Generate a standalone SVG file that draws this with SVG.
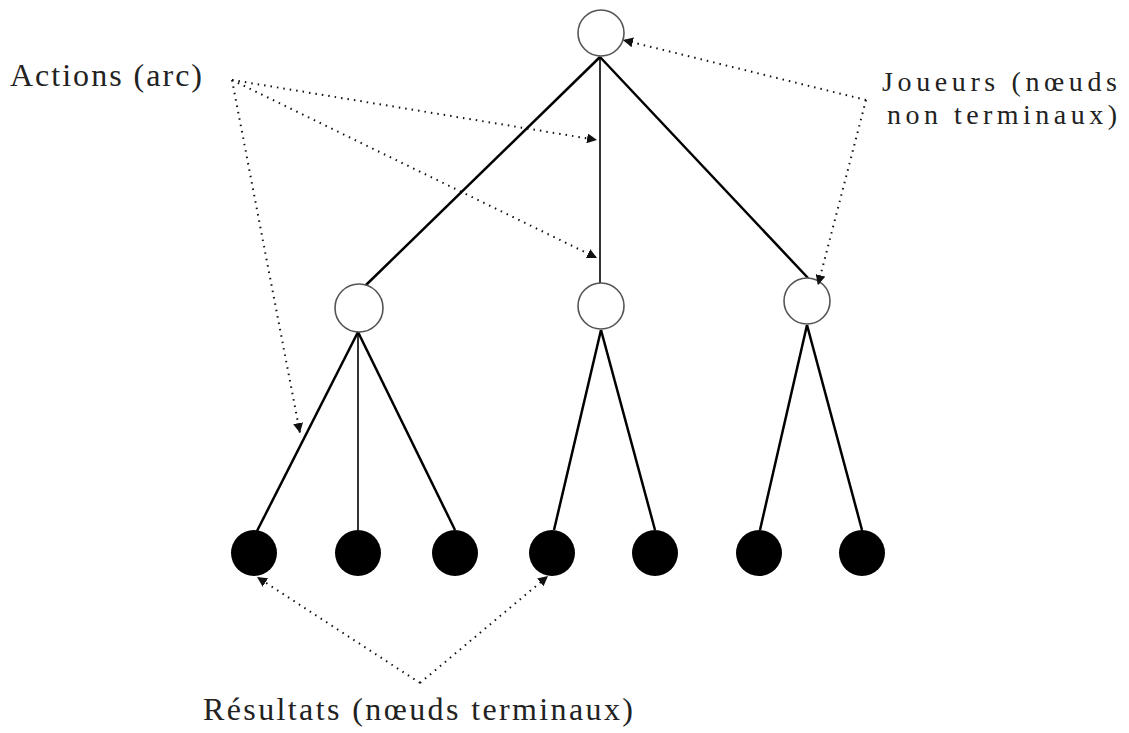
<svg xmlns="http://www.w3.org/2000/svg" width="1129" height="733" viewBox="0 0 1129 733">
<style>
.lbl{font-size:32px;fill:#222}
.sm{font-size:28px}
.edge{stroke:#000;stroke-width:2.5;fill:none}
.thin{stroke:#000;stroke-width:1.6;fill:none}
.dot{stroke:#111;stroke-width:2;stroke-dasharray:1.5,5;fill:none}
.open{fill:#fff;stroke:#555;stroke-width:1.6}
.leaf{fill:#000}
</style>
<defs>
<marker id="ah" viewBox="0 0 10 10" refX="10" refY="5" markerWidth="10" markerHeight="10" markerUnits="userSpaceOnUse" orient="auto">
<path d="M0,0 L10,5 L0,10 z" fill="#111"/>
</marker>
</defs>
<g id="edges">
<line class="edge" x1="600" y1="57" x2="365" y2="286"/>
<line class="thin" x1="600" y1="57" x2="600" y2="283"/>
<line class="edge" x1="600" y1="57" x2="808" y2="278"/>
<line class="edge" x1="358" y1="332" x2="257" y2="531"/>
<line class="thin" x1="358" y1="332" x2="358" y2="530"/>
<line class="edge" x1="358" y1="332" x2="455" y2="530"/>
<line class="edge" x1="601" y1="330" x2="554" y2="530"/>
<line class="edge" x1="601" y1="330" x2="655" y2="530"/>
<line class="edge" x1="807" y1="325" x2="760" y2="530"/>
<line class="edge" x1="807" y1="325" x2="862" y2="530"/>
</g>
<g id="root"><circle class="open" cx="601" cy="33" r="23"/></g>
<g id="n1"><circle class="open" cx="359" cy="308" r="24"/></g>
<g id="n2"><circle class="open" cx="601" cy="306" r="23"/></g>
<g id="n3"><circle class="open" cx="807" cy="301" r="23"/></g>
<g id="l1"><circle class="leaf" cx="254" cy="553" r="23"/></g>
<g id="l2"><circle class="leaf" cx="358" cy="553" r="23"/></g>
<g id="l3"><circle class="leaf" cx="455" cy="553" r="23"/></g>
<g id="l4"><circle class="leaf" cx="552" cy="553" r="23"/></g>
<g id="l5"><circle class="leaf" cx="655" cy="553" r="23"/></g>
<g id="l6"><circle class="leaf" cx="759" cy="553" r="23"/></g>
<g id="l7"><circle class="leaf" cx="862" cy="553" r="23"/></g>
<g id="connectors">
<line class="dot" x1="232" y1="80" x2="597" y2="140" marker-end="url(#ah)"/>
<line class="dot" x1="232" y1="80" x2="597" y2="258" marker-end="url(#ah)"/>
<line class="dot" x1="232" y1="80" x2="300" y2="433" marker-end="url(#ah)"/>
<line class="dot" x1="866" y1="100" x2="623" y2="40" marker-end="url(#ah)"/>
<line class="dot" x1="866" y1="100" x2="818" y2="285" marker-end="url(#ah)"/>
<line class="dot" x1="420" y1="683" x2="257" y2="577" marker-end="url(#ah)"/>
<line class="dot" x1="420" y1="683" x2="548" y2="576" marker-end="url(#ah)"/>
</g>
<g id="labels" font-family="Liberation Serif, Times New Roman, DejaVu Serif, serif">
<text class="lbl" x="10" y="86" textLength="192" lengthAdjust="spacing">Actions (arc)</text>
<text class="lbl sm" x="882" y="91" textLength="235" lengthAdjust="spacing">Joueurs (nœuds</text>
<text class="lbl sm" x="887" y="124" textLength="230" lengthAdjust="spacing">non terminaux)</text>
<text class="lbl" x="203" y="720" textLength="430" lengthAdjust="spacing">Résultats (nœuds terminaux)</text>
</g>
</svg>
